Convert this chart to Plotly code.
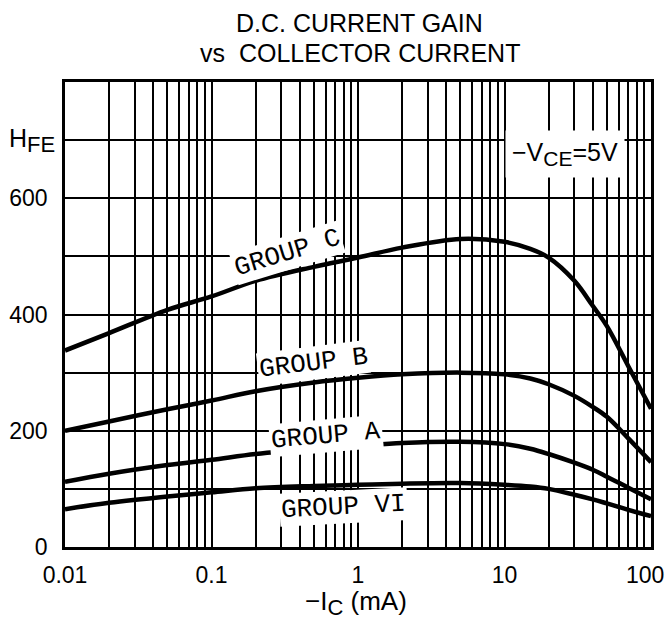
import math
import plotly.graph_objects as go

# ---- data ----
ic = [0.01, 0.02, 0.05, 0.1, 0.2, 0.5, 1, 2, 5, 10, 15, 20, 30, 40, 50, 70, 100]
hfe_c = [338, 368, 408, 431, 458, 482, 498, 515, 530, 525, 513, 498, 458, 415, 380, 311, 238]
hfe_b = [200, 216, 237, 252, 268, 283, 291, 297, 300, 297, 290, 280, 260, 241, 224, 187, 146]
hfe_a = [112, 126, 141, 150, 160, 169, 174, 179, 181, 177, 169, 160, 145, 133, 121, 102, 82]
hfe_vi = [65, 76, 87, 94, 101, 105, 107, 109, 110, 107, 104, 100, 90, 82, 75, 64, 53]

x_tickvals = [0.01, 0.1, 1, 10, 100]
x_ticktext = ["0.01", "0.1", "1", "10", ""]
last_xtick = "100"
y_tickvals = [0, 200, 400, 600, 700]
y_ticktext = ["0", "200", "400", "600", ""]

group_labels = ["GROUP C", "GROUP B", "GROUP A", "GROUP VI"]
label_x = [0.33, 0.50, 0.60, 0.79]
label_y = [505, 317, 191, 69]
label_angle = [-17, -7, -5, -3]

SANS = "Liberation Sans, Arial, sans-serif"
MONO = "Liberation Mono, Courier New, monospace"

W, H = 667, 619
ML, MR, MT, MB = 65, 16, 82, 72
PW, PH = W - ML - MR, H - MT - MB


def px(xp):
    return (xp - ML) / PW


def py(yp):
    return (H - MB - yp) / PH


fig = go.Figure()
for ys in [hfe_c, hfe_b, hfe_a, hfe_vi]:
    fig.add_trace(go.Scatter(
        x=ic, y=ys, mode="lines",
        line=dict(color="black", width=4.5, shape="spline", smoothing=1.0),
        showlegend=False, hoverinfo="skip"))

for t, lx, ly, ang in zip(group_labels, label_x, label_y, label_angle):
    fig.add_annotation(x=math.log10(lx), y=ly, xref="x", yref="y", text=t,
                       showarrow=False, textangle=ang, bgcolor="white", borderpad=1,
                       font=dict(family=MONO, size=26, color="black"))

# last x tick label, nudged inside the page like the reference
fig.add_annotation(x=math.log10(x_tickvals[-1]), y=py(575), xref="x", yref="paper",
                   text=last_xtick, showarrow=False, xshift=-6,
                   xanchor="center", yanchor="middle",
                   font=dict(family=SANS, size=23, color="black"))

# -VCE = 5V box
fig.add_annotation(x=1.413, y=676, xref="x", yref="y",
                   text="\u2212V<sub><span style='font-size:21px'>CE</span></sub>=5V",
                   showarrow=False, bgcolor="white", width=116, height=44,
                   font=dict(family=SANS, size=25, color="black"))

# H_FE axis label
fig.add_annotation(x=px(7), y=py(141), xref="paper", yref="paper",
                   text="H<sub><span style='font-size:22px'>FE</span></sub>",
                   showarrow=False, xanchor="left", yanchor="middle",
                   font=dict(family=SANS, size=25, color="black"))

# title lines
fig.add_annotation(x=px(359), y=py(23), xref="paper", yref="paper",
                   text="D.C. CURRENT GAIN", showarrow=False,
                   xanchor="center", yanchor="middle",
                   font=dict(family=SANS, size=25, color="black"))
fig.add_annotation(x=px(360), y=py(53), xref="paper", yref="paper",
                   text="vs  COLLECTOR CURRENT", showarrow=False,
                   xanchor="center", yanchor="middle",
                   font=dict(family=SANS, size=25, color="black"))

# x-axis title
fig.add_annotation(x=px(356), y=py(603), xref="paper", yref="paper",
                   text="\u2212I<sub><span style='font-size:22px'>C</span></sub> (mA)",
                   showarrow=False, xanchor="center", yanchor="middle",
                   font=dict(family=SANS, size=26, color="black"))

fig.update_layout(
    width=W, height=H,
    margin=dict(l=ML, r=MR, t=MT, b=MB, autoexpand=False),
    paper_bgcolor="white", plot_bgcolor="white",
    font=dict(family=SANS, color="black"),
)

fig.update_xaxes(type="log", range=[-2, 2],
                 tickvals=x_tickvals, ticktext=x_ticktext,
                 tickfont=dict(family=SANS, size=23, color="black"),
                 ticks="", ticklabelstandoff=6,
                 showgrid=True, gridcolor="black", gridwidth=1.8,
                 minor=dict(dtick="D1", showgrid=True, gridcolor="black", gridwidth=1.6),
                 showline=True, linecolor="black", linewidth=2.5, mirror=True,
                 zeroline=False, automargin=False)
fig.update_yaxes(range=[0, 800], tickvals=y_tickvals, ticktext=y_ticktext,
                 tickfont=dict(family=SANS, size=23, color="black"),
                 ticks="", ticklabelstandoff=10,
                 showgrid=True, gridcolor="black", gridwidth=1.8,
                 minor=dict(dtick=100, showgrid=True, gridcolor="black", gridwidth=1.8),
                 showline=True, linecolor="black", linewidth=2.5, mirror=True,
                 zeroline=False, automargin=False)

fig.write_html("out.html", config={"displayModeBar": False},
               post_script="document.body.style.margin='0px';document.body.style.overflow='hidden';")
